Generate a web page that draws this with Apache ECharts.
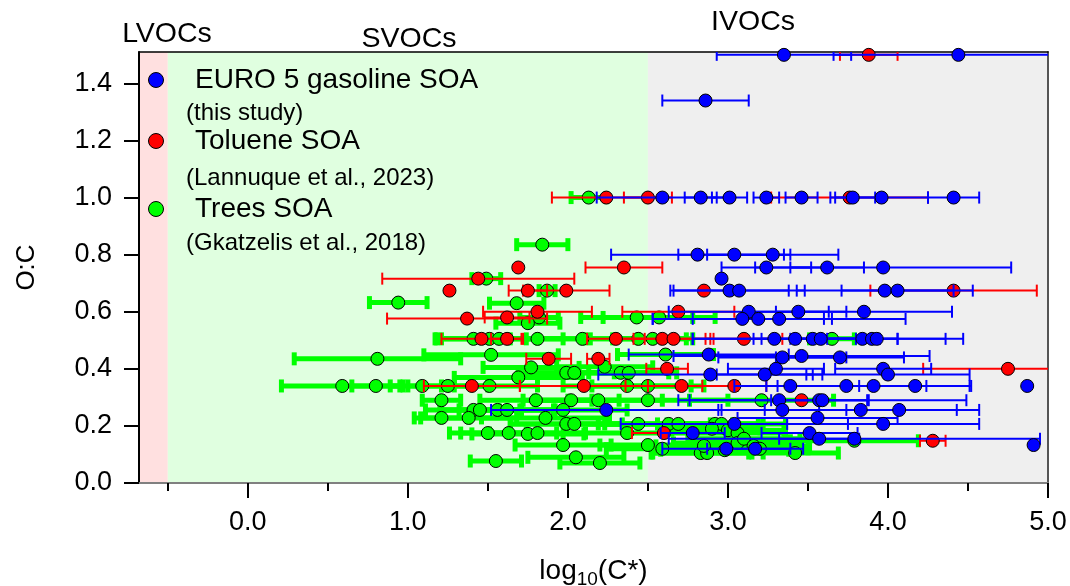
<!DOCTYPE html>
<html><head><meta charset="utf-8">
<script src="https://cdn.jsdelivr.net/npm/echarts@6/dist/echarts.min.js"></script>
<style>html,body{margin:0;padding:0;background:#fff}#c{width:1070px;height:586px}</style>
</head><body><div id="c"></div>
<script>
// axis ranges and ticks
const xMin = -0.68, xMax = 5.0, yMin = 0, yMax = 1.51;
const xMajorTicks = [0, 1, 2, 3, 4, 5];
const xMinorTicks = [-0.5, 0.5, 1.5, 2.5, 3.5, 4.5];
const yTicks = [0, 0.2, 0.4, 0.6, 0.8, 1.0, 1.2, 1.4];
// volatility classes
const regionNames = ['LVOCs', 'SVOCs', 'IVOCs'];
const regionBounds = [[-0.68, -0.5], [-0.5, 2.5], [2.5, 5.0]];
const regionColors = ['#ffe0e0', '#e0ffe0', '#efefef'];
// series names
const seriesNames = ['EURO 5 gasoline SOA', 'Toluene SOA', 'Trees SOA'];
const seriesRefs = ['(this study)', '(Lannuque et al., 2023)', '(Gkatzelis et al., 2018)'];
// [log10(C*), O:C, x error]
const euroPoints = [
 [3.35,1.50,0.42],[4.44,1.50,0.78],[2.86,1.34,0.27],
 [2.59,1.00,0.41],[2.83,1.00,0.10],[3.01,1.00,0.11],[3.24,1.00,0.08],[3.46,1.00,0.10],[3.78,1.00,0.14],[3.96,1.00,0.29],[4.41,1.00,0.16],
 [2.81,0.80,0.54],[3.04,0.80,0.35],[3.28,0.80,0.41],
 [3.24,0.755,0.28],[3.62,0.755,0.23],[3.97,0.755,0.80],
 [2.96,0.716,0],
 [3.01,0.674,0.37],[3.07,0.674,0.41],[3.98,0.674,0.55],[4.06,0.674,0.35],
 [3.13,0.60,0.50],[3.44,0.60,0.30],[3.85,0.60,0.55],
 [3.09,0.575,0.56],[3.19,0.575,0.41],[3.32,0.575,0.79],
 [3.29,0.505,0.51],[3.42,0.505,0.64],[3.53,0.505,0.37],[3.58,0.505,0.37],[3.84,0.505,0.22],[3.90,0.505,0.46],[3.93,0.505,0.54],
 [2.88,0.45,0.50],[3.34,0.44,0.40],[3.46,0.445,0.80],[3.70,0.44,0.40],
 [3.30,0.40,0.30],[3.97,0.40,0.30],
 [2.89,0.38,0.70],[3.23,0.38,0.30],[4.00,0.38,0.51],
 [3.39,0.34,0.35],[3.74,0.34,0.50],[3.91,0.34,0.60],[4.17,0.34,0.35],[4.87,0.34,0],
 [3.32,0.29,0.56],[3.57,0.29,0.30],[3.59,0.29,0.90],
 [2.24,0.256,0.72],[3.34,0.256,0.40],[3.83,0.256,0.60],[4.07,0.256,0.50],
 [3.56,0.228,0.50],
 [3.04,0.207,0.71],[3.97,0.207,0.60],
 [2.78,0.175,0.20],[3.51,0.175,0.30],
 [3.57,0.155,0.25],[3.79,0.155,1.16],
 [4.91,0.133,0],
 [2.99,0.12,0.40],[3.17,0.12,0.30]
];
const toluenePoints = [
 [3.88,1.50,0.18],[2.24,1.00,0.34],[2.50,1.00,0.15],[3.76,1.00,0.49],
 [2.35,0.755,0.24],[1.69,0.755,0],[1.44,0.716,0.60],
 [1.26,0.674,0],[1.75,0.674,0.12],[1.99,0.674,0.27],[2.85,0.674,0],[4.41,0.674,0.52],
 [1.81,0.60,0.34],[1.62,0.58,0.14],[1.37,0.576,0.50],[2.69,0.60,0.35],
 [1.46,0.505,0.25],[1.62,0.505,0.10],[2.30,0.505,0.18],[2.59,0.505,0.30],[2.66,0.505,0.25],[3.10,0.505,0.24],
 [1.88,0.435,0.14],[2.19,0.435,0.07],[2.62,0.40,0.13],[4.75,0.40,0.53],
 [1.40,0.34,0.30],[2.10,0.34,0.40],[2.71,0.34,0.35],[3.04,0.34,0.20],
 [3.46,0.29,0],[2.60,0.175,0.20],[4.28,0.148,0.08]
];
const treesPoints = [
 [2.13,1.00,0.11],[1.84,0.835,0.16],[1.49,0.716,0.09],[1.87,0.674,0.05],
 [0.94,0.632,0.18],[1.68,0.63,0.17],[1.82,0.58,0.12],[1.75,0.56,0.20],[2.43,0.58,0.35],[2.57,0.58,0.35],
 [1.41,0.505,0.23],[1.51,0.505,0.30],[1.57,0.505,0.40],[1.81,0.505,0.30],[2.09,0.505,0.35],[2.44,0.505,0.30],[2.53,0.505,0.25],[3.65,0.505,0.14],
 [0.81,0.435,0.52],[1.52,0.449,0.42],[2.61,0.45,0.30],
 [1.77,0.405,0.30],[1.69,0.37,0.40],[1.99,0.386,0.30],[2.04,0.386,0.35],[2.23,0.407,0.30],[2.33,0.386,0.35],[2.38,0.386,0.25],
 [0.59,0.34,0.38],[0.80,0.34,0.15],[1.09,0.34,0.20],[1.25,0.34,0.25],[1.51,0.34,0.30],[2.37,0.34,0.40],[2.50,0.34,0.35],
 [1.21,0.29,0.12],[1.80,0.29,0.35],[2.02,0.29,0.30],[2.19,0.29,0.40],[2.50,0.29,0.50],[3.21,0.29,0.45],
 [1.41,0.256,0.30],[1.45,0.256,0.25],[1.56,0.256,0.35],[1.62,0.256,0.30],[1.97,0.256,0.40],
 [1.21,0.228,0.17],[1.38,0.228,0.30],[1.86,0.228,0.40],
 [1.99,0.207,0.35],[2.04,0.207,0.40],[2.44,0.207,0.45],[2.63,0.207,0.40],[2.69,0.207,0.50],[2.92,0.207,0.30],[2.96,0.207,0.40],
 [1.50,0.175,0.24],[1.63,0.175,0.30],[1.75,0.172,0.35],[1.81,0.175,0.30],[2.37,0.175,0.40],[3.00,0.185,0.35],[3.06,0.175,0.30],
 [1.97,0.133,0.30],[2.50,0.133,0.30],[2.59,0.12,0.35],[3.06,0.14,0.40],
 [2.83,0.105,0.30],[2.87,0.105,0.35],[2.98,0.115,0.40],[3.42,0.105,0.27],
 [1.55,0.077,0.16],[2.05,0.09,0.30],[2.20,0.07,0.25],
 [2.90,0.19,0.30],[2.85,0.13,0.30],[3.10,0.155,0.35],[3.16,0.13,0.35],[3.79,0.148,0.40],[3.20,0.12,0.30]
];
const colors = ['#0000ff', '#ff0000', '#00ff00'];

const FONT = '"Liberation Sans", Arial, Helvetica, sans-serif';

function errSeries(points, color, lw, capH, z) {
  return {
    type: 'custom', data: points, z: z, clip: true, silent: true,
    encode: { x: 0, y: 1 },
    renderItem: function (params, api) {
      const x = api.value(0), y = api.value(1), e = api.value(2);
      if (!e) return null;
      const l = api.coord([x - e, y]), r = api.coord([x + e, y]);
      const st = { stroke: color, lineWidth: lw, fill: null };
      return { type: 'group', children: [
        { type: 'line', shape: { x1: l[0], y1: l[1], x2: r[0], y2: r[1] }, style: st },
        { type: 'line', shape: { x1: l[0], y1: l[1] - capH / 2, x2: l[0], y2: l[1] + capH / 2 }, style: st },
        { type: 'line', shape: { x1: r[0], y1: r[1] - capH / 2, x2: r[0], y2: r[1] + capH / 2 }, style: st }
      ]};
    }
  };
}
function dotSeries(name, points, color, z) {
  return {
    name: name, type: 'scatter', z: z, symbol: 'circle', symbolSize: 13,
    data: points.map(p => [p[0], p[1]]),
    itemStyle: { color: color, borderColor: '#000', borderWidth: 1, opacity: 1 },
    emphasis: { disabled: true }
  };
}

const chart = echarts.init(document.getElementById('c'), null, { renderer: 'canvas' });

const bgSeries = {
  type: 'scatter', data: [], z: 0, silent: true,
  markArea: {
    silent: true,
    data: regionBounds.map((b, i) => [
      { xAxis: b[0], yAxis: yMin, itemStyle: { color: regionColors[i], opacity: 1 } },
      { xAxis: b[1], yAxis: yMax }
    ]),
    label: { show: false }
  }
};

const legendGraphics = [];
const legendY = [80, 141, 209];
const refY = [113, 178, 243];
for (let i = 0; i < 3; i++) {
  legendGraphics.push({ type: 'circle', z: 100, shape: { cx: 156, cy: legendY[i], r: 7.5 },
    style: { fill: colors[i], stroke: '#000', lineWidth: 1 } });
  legendGraphics.push({ type: 'text', z: 100, x: 195, y: legendY[i],
    style: { text: seriesNames[i], font: '28px ' + FONT, fill: '#000', verticalAlign: 'middle', textVerticalAlign: 'middle' } });
  legendGraphics.push({ type: 'text', z: 100, x: 186, y: refY[i],
    style: { text: seriesRefs[i], font: '24px ' + FONT, fill: '#000', verticalAlign: 'middle', textVerticalAlign: 'middle' } });
}
const regionLabelPos = [[167, 34], [409, 39], [753, 22]];
regionNames.forEach((n, i) => {
  legendGraphics.push({ type: 'text', z: 100, x: regionLabelPos[i][0], y: regionLabelPos[i][1],
    style: { text: n, font: '28.5px ' + FONT, fill: '#000', align: 'center', textAlign: 'center', verticalAlign: 'middle', textVerticalAlign: 'middle' } });
});

const option = {
  animation: false,
  backgroundColor: '#fff',
  textStyle: { fontFamily: FONT },
  grid: { left: 139, right: 22, top: 52, bottom: 103, containLabel: false, outerBoundsMode: 'none' },
  xAxis: [
    { type: 'value', min: xMin, max: xMax, position: 'bottom', z: 3,
      name: 'log{s|10}(C*)', nameLocation: 'middle', nameGap: 71, nameMoveOverlap: false,
      nameTextStyle: { fontSize: 28, color: '#000', fontFamily: FONT,
        rich: { s: { fontSize: 19, fontFamily: FONT, color: '#000', padding: [16, 0, 0, 0] } } },
      axisLine: { show: true, onZero: false, lineStyle: { color: '#808080', width: 2 } },
      axisTick: { show: true, inside: false, length: 15, customValues: xMajorTicks, lineStyle: { color: '#000', width: 2 } },
      axisLabel: { show: true, customValues: xMajorTicks, margin: 26, fontSize: 27, color: '#000', fontFamily: FONT,
        formatter: v => Number(v).toFixed(1) },
      splitLine: { show: false }, minorTick: { show: false }
    },
    { type: 'value', min: xMin, max: xMax, position: 'bottom', z: 3,
      axisLine: { show: false },
      axisTick: { show: true, inside: false, length: 8, customValues: xMinorTicks, lineStyle: { color: '#000', width: 2 } },
      axisLabel: { show: false }, splitLine: { show: false }
    },
    { type: 'value', min: xMin, max: xMax, position: 'top', z: 3,
      axisLine: { show: true, onZero: false, lineStyle: { color: '#000', width: 1.5 } },
      axisTick: { show: false }, axisLabel: { show: false }, splitLine: { show: false }
    }
  ],
  yAxis: [
    { type: 'value', min: yMin, max: yMax, position: 'left', z: 3,
      name: 'O:C', nameLocation: 'middle', nameGap: 99, nameRotate: 90, nameMoveOverlap: false,
      nameTextStyle: { fontSize: 26, color: '#000', fontFamily: FONT },
      axisLine: { show: true, onZero: false, lineStyle: { color: '#000', width: 2 } },
      axisTick: { show: true, inside: false, length: 15, customValues: yTicks, lineStyle: { color: '#000', width: 2 } },
      axisLabel: { show: true, customValues: yTicks, margin: 27, fontSize: 27, color: '#000', fontFamily: FONT,
        formatter: v => Number(v).toFixed(1) },
      splitLine: { show: false }
    },
    { type: 'value', min: yMin, max: yMax, position: 'right', z: 3,
      axisLine: { show: true, onZero: false, lineStyle: { color: '#555', width: 2 } },
      axisTick: { show: false }, axisLabel: { show: false }, splitLine: { show: false }
    }
  ],
  series: [
    bgSeries,
    errSeries(treesPoints, colors[2], 5, 13, 4),
    dotSeries(seriesNames[2], treesPoints, colors[2], 5),
    errSeries(toluenePoints, colors[1], 2, 12, 6),
    dotSeries(seriesNames[1], toluenePoints, colors[1], 7),
    errSeries(euroPoints, colors[0], 2, 12, 8),
    dotSeries(seriesNames[0], euroPoints, colors[0], 9)
  ],
  graphic: legendGraphics
};
chart.setOption(option);
</script></body></html>
